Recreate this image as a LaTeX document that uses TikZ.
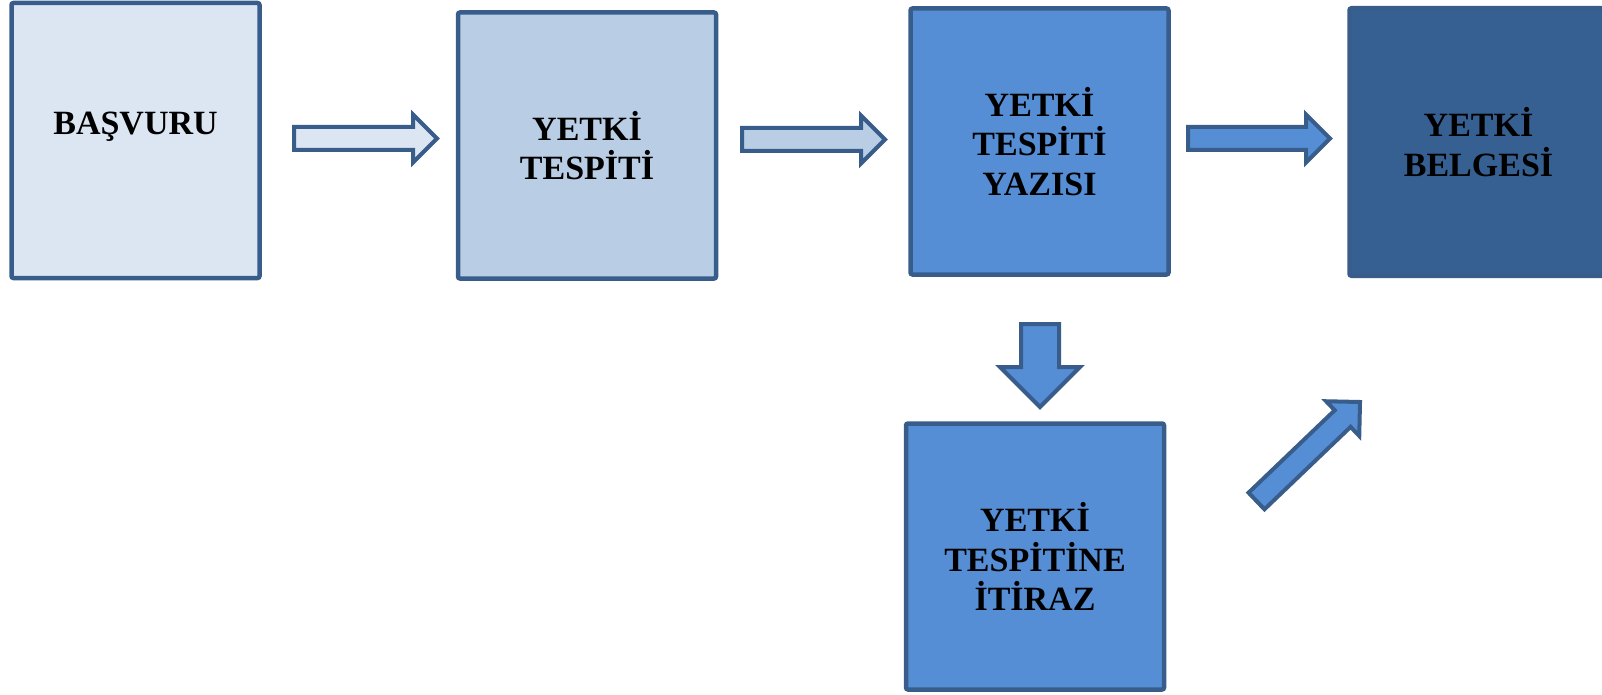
\documentclass[tikz,border=0pt]{standalone}
\usepackage{fontspec}
\setmainfont{Liberation Serif}
\usetikzlibrary{calc}
\definecolor{edge}{HTML}{385D8A}
\definecolor{pale}{HTML}{DCE6F2}
\definecolor{light}{HTML}{B9CDE5}
\definecolor{mid}{HTML}{558ED5}
\definecolor{dark}{HTML}{376092}
% block arrow: fill, tail, tip, shaft half width, head half width
\newcommand{\blockarrow}[5]{%
  \coordinate (hb) at ($(#3)!#5pt!(#2)$);
  \draw[flow,fill=#1] ($(#2)!#4pt!90:(#3)$) -- ($(hb)!#4pt!90:(#3)$) -- ($(hb)!#5pt!90:(#3)$)
    -- (#3) -- ($(hb)!#5pt!-90:(#3)$) -- ($(hb)!#4pt!-90:(#3)$) -- ($(#2)!#4pt!-90:(#3)$) -- cycle;}

\begin{document}
\begin{tikzpicture}[x=1pt,y=-1pt,
    box/.style={draw=edge,line width=4.5pt,rounded corners=2pt,inner sep=0pt,align=center,
      minimum width=258pt,minimum height=266pt,font=\bfseries\fontsize{34}{39.5}\selectfont},
    flow/.style={draw=edge,line width=4pt}]
            \useasboundingbox (0,0) rectangle (1602,695);
            % boxes
            \node[box,fill=pale,minimum width=248pt,minimum height=275pt] (basvuru) at (135.5,140.5) {BAŞVURU\\[-5pt] \mbox{}};
            \node[box,fill=light] (tespit) at (587,145.5) {YETKİ\\TESPİTİ};
            \node[box,fill=mid] (yazi) at (1039.5,141.5) {YETKİ\\TESPİTİ\\YAZISI};
            \node[box,fill=dark,minimum height=267.5pt] (belge) at (1478.5,142) {YETKİ\\BELGESİ};
            \node[box,fill=mid] (itiraz) at (1035,556.5) {YETKİ\\TESPİTİNE\\İTİRAZ};
            % arrow ends
            \coordinate (a1s) at (294,138.5);   \coordinate (a1e) at (437,138.5);
            \coordinate (a2s) at (742,139.5);   \coordinate (a2e) at (885,139.5);
            \coordinate (a3s) at (1188,138.5);  \coordinate (a3e) at (1330,138.5);
            \coordinate (a4s) at (1040,324);    \coordinate (a4e) at (1040,407);
            \coordinate (a5s) at (1256.5,501);  \coordinate (a5e) at (1360,402);
            % arrows
            \blockarrow{pale}{a1s}{a1e}{11.5}{24}
            \blockarrow{light}{a2s}{a2e}{11.5}{24}
            \blockarrow{mid}{a3s}{a3e}{11.5}{24}
            \blockarrow{mid}{a4s}{a4e}{19}{40}
            \blockarrow{mid}{a5s}{a5e}{11.5}{24}
           \end{tikzpicture}
\end{document}
